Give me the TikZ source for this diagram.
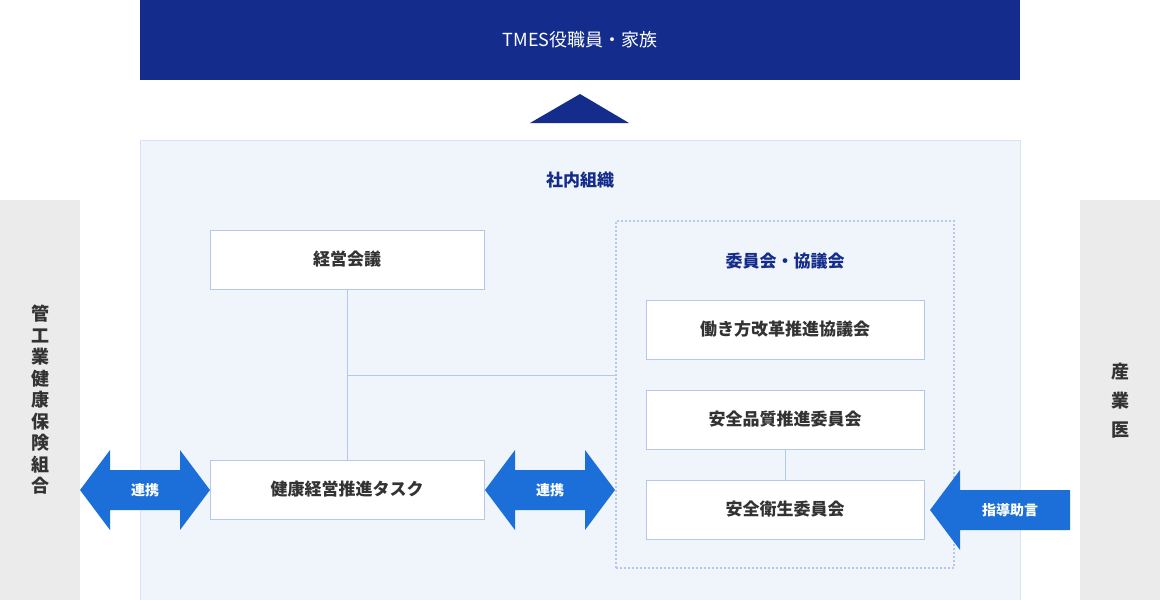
\documentclass[tikz,border=0pt]{standalone}
\usepackage{fontspec}
\setmainfont{Noto Sans CJK JP}
\newfontfamily\jpb{Noto Sans CJK JP}[BoldFont=* Bold]
\definecolor{navy}{HTML}{142C8C}
\definecolor{panel}{HTML}{F0F5FC}
\definecolor{grayb}{HTML}{EBEBEB}
\definecolor{boxline}{HTML}{B4C8EC}
\definecolor{arrowblue}{HTML}{1C6FD8}
\definecolor{txt}{HTML}{333333}
\begin{document}
\begin{tikzpicture}[x=1pt,y=-1pt,
  box/.style={draw=boxline,fill=white,minimum width=274pt,minimum height=59pt,font=\bfseries\fontsize{17}{20}\selectfont,text=txt,inner sep=0pt},
  rbox/.style={box,minimum width=278pt},
  line/.style={draw=boxline,line width=0.8pt},
  dbl/.style={fill=arrowblue,draw=none},
  lbl/.style={text=white,font=\bfseries\fontsize{14}{16}\selectfont}]
\useasboundingbox (0,0) rectangle (1160,600);
\fill[white] (0,0) rectangle (1160,600);
\node[fill=navy,minimum width=880pt,minimum height=80pt,inner sep=0pt,text=white,font=\fontsize{18}{20}\selectfont] (top) at (580,40) {TMES役職員・家族};
\fill[navy] (580,94) -- (629,123) -- (530,123) -- cycle;
\node[fill=panel,draw=boxline!50,minimum width=880pt,minimum height=462pt,inner sep=0pt] (panel) at (580,371) {};
\node[text=navy,font=\bfseries\fontsize{17}{20}\selectfont] (org) at (580,180) {社内組織};
\node[fill=grayb,minimum width=80pt,minimum height=400pt,inner sep=0pt] (lg) at (40,400) {};
\node[fill=grayb,minimum width=80pt,minimum height=400pt,inner sep=0pt] (rg) at (1120,400) {};
\node[align=center,text=txt,font=\bfseries\fontsize{18}{21.5}\selectfont] (lt) at (40,400) {管\\工\\業\\健\\康\\保\\険\\組\\合};
\node[align=center,text=txt,font=\bfseries\fontsize{18}{29}\selectfont] (rt) at (1120,401) {産\\業\\医};
\node[draw=boxline,dash pattern=on 2pt off 2pt,line width=1.8pt,minimum width=338pt,minimum height=347pt,inner sep=0pt] (cm) at (785,394.5) {};
\node[text=navy,font=\bfseries\fontsize{17}{20}\selectfont] (cmt) at (785,261) {委員会・協議会};
\node[box] (keiei) at (347,259.5) {経営会議};
\node[box] (task) at (347,489.5) {健康経営推進タスク};
\node[rbox] (c1) at (785,329.5) {働き方改革推進協議会};
\node[rbox] (c2) at (785,419.5) {安全品質推進委員会};
\node[rbox] (c3) at (785,509.5) {安全衛生委員会};
\coordinate (j) at (347,375);
\coordinate (je) at (616,375);
\draw[line] (keiei) -- (task);
\draw[line] (j) -- (je);
\draw[line] (c2) -- (c3);
\fill[dbl] (80,490) -- (110,450) -- (110,470) -- (180,470) -- (180,450) -- (210,490) -- (180,530) -- (180,510) -- (110,510) -- (110,530) -- cycle;
\node[lbl] (l1) at (145,490) {連携};
\fill[dbl] (485,490) -- (515,450) -- (515,470) -- (585,470) -- (585,450) -- (615,490) -- (585,530) -- (585,510) -- (515,510) -- (515,530) -- cycle;
\node[lbl] (l2) at (550,490) {連携};
\fill[dbl] (930,510) -- (960,470) -- (960,490) -- (1070,490) -- (1070,530) -- (960,530) -- (960,550) -- cycle;
\node[lbl] (l3) at (1010,510) {指導助言};
\end{tikzpicture}
\end{document}
